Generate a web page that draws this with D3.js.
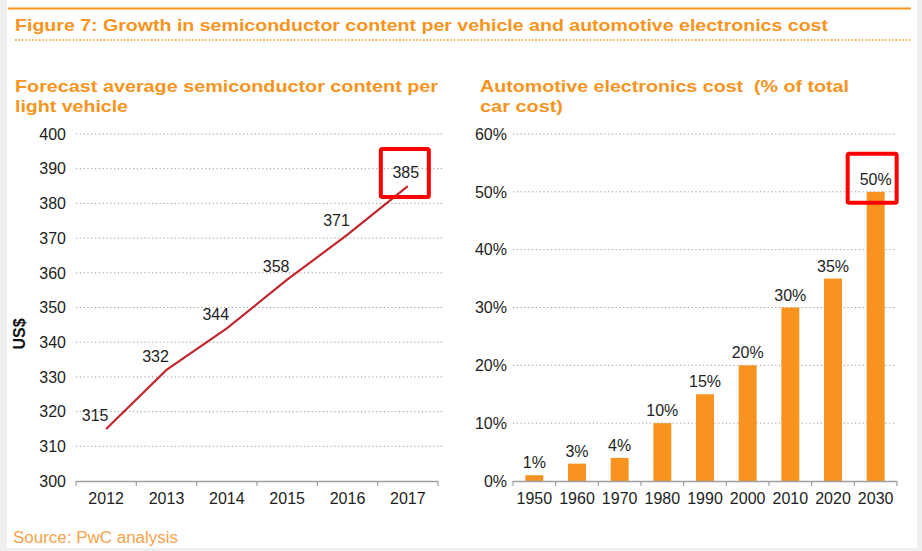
<!DOCTYPE html>
<html><head><meta charset="utf-8">
<script src="https://cdn.jsdelivr.net/npm/d3@7"></script>
<style>
html,body{margin:0;padding:0;background:#fff;}
svg{display:block;font-family:"Liberation Sans",Arial,sans-serif;}
</style></head>
<body>
<script>
// ---- data ----
const years = ["2012","2013","2014","2015","2016","2017"];
const content = [315, 332, 344, 358, 371, 385];
const contentTicks = [300,310,320,330,340,350,360,370,380,390,400];
const decades = ["1950","1960","1970","1980","1990","2000","2010","2020","2030"];
const costPct = [1, 3, 4, 10, 15, 20, 30, 35, 50];
const pctTicks = [0,10,20,30,40,50,60];
const titleText = "Figure 7: Growth in semiconductor content per vehicle and automotive electronics cost";
const leftTitle = ["Forecast average semiconductor content per", "light vehicle"];
const rightTitle = ["Automotive electronics cost  (% of total", "car cost)"];
const yLabel = "US$";
const sourceText = "Source: PwC analysis";

const W = 922, H = 551;
const ORANGE = "#f7941d", TXT = "#1e1e1e", GRID = "#9a9a9a", AX = "#a0a0a0";
const svg = d3.select("body").append("svg").attr("width", W).attr("height", H);

// frame
svg.append("rect").attr("width", W).attr("height", H).attr("fill", "#efefef");
svg.append("rect").attr("x", 7).attr("y", 0).attr("width", 910).attr("height", 548).attr("fill", "#fff");

// header
svg.append("line").attr("x1", 8).attr("x2", 911).attr("y1", 8.5).attr("y2", 8.5)
  .attr("stroke", ORANGE).attr("stroke-width", 2);
svg.append("text").attr("x", 15).attr("y", 31).attr("fill", ORANGE)
  .attr("font-size", 17).attr("font-weight", "bold")
  .attr("textLength", 813).attr("lengthAdjust", "spacingAndGlyphs").text(titleText);
svg.append("line").attr("x1", 15).attr("x2", 912).attr("y1", 40).attr("y2", 40)
  .attr("stroke", ORANGE).attr("stroke-width", 1.6).attr("stroke-dasharray", "1.6,1.8");

function subtitle(lines, x, widths) {
  lines.forEach((l, i) => {
    svg.append("text").attr("x", x).attr("y", 92 + i * 20).attr("fill", ORANGE)
      .attr("font-size", 17).attr("font-weight", "bold").style("white-space", "pre")
      .attr("textLength", widths[i]).attr("lengthAdjust", "spacingAndGlyphs").text(l);
  });
}
subtitle(leftTitle, 15, [423, 113]);
subtitle(rightTitle, 480, [369, 83]);

// ---- left: line chart ----
const xL = d3.scaleBand().domain(years).range([76, 438]).padding(0);
const yL = d3.scaleLinear().domain([300, 400]).range([481, 134]);
const gL = svg.append("g");
gL.selectAll("line.grid").data(contentTicks.slice(1)).join("line")
  .attr("x1", 76).attr("x2", 443).attr("y1", d => yL(d)).attr("y2", d => yL(d))
  .attr("stroke", GRID).attr("stroke-width", 1).attr("stroke-dasharray", "1.2,2.6");
gL.selectAll("text.yt").data(contentTicks).join("text")
  .attr("x", 66).attr("y", d => yL(d)).attr("dy", "0.36em").attr("text-anchor", "end")
  .attr("font-size", 16).attr("fill", TXT).text(d => d);
gL.append("line").attr("x1", 76).attr("x2", 438).attr("y1", 481.5).attr("y2", 481.5)
  .attr("stroke", AX).attr("stroke-width", 1.5);
const bL = years.map((d) => xL(d)).concat([xL(years[years.length - 1]) + xL.bandwidth()]);
gL.selectAll("line.tk").data(bL).join("line")
  .attr("x1", d => d).attr("x2", d => d).attr("y1", 481).attr("y2", 486)
  .attr("stroke", AX).attr("stroke-width", 1.2);
gL.selectAll("text.xt").data(years).join("text")
  .attr("x", d => xL(d) + xL.bandwidth() / 2).attr("y", 504).attr("text-anchor", "middle")
  .attr("font-size", 16).attr("fill", TXT).text(d => d);
const line = d3.line().x((d, i) => xL(years[i]) + xL.bandwidth() / 2).y(d => yL(d));
gL.append("path").attr("d", line(content)).attr("fill", "none")
  .attr("stroke", "#c1272d").attr("stroke-width", 2.2);
gL.selectAll("text.val").data(content).join("text")
  .attr("x", (d, i) => xL(years[i]) + xL.bandwidth() / 2 + (i === content.length - 1 ? -2 : -11))
  .attr("y", d => yL(d) - 14).attr("dy", "0.36em").attr("text-anchor", "middle")
  .attr("font-size", 16).attr("fill", TXT).text(d => d);
svg.append("text").attr("transform", "translate(25,334) rotate(-90)").attr("text-anchor", "middle")
  .attr("font-size", 16).attr("font-weight", "bold").attr("fill", "#111").text(yLabel);
// highlight box left
{
  const i = content.length - 1;
  const cx = xL(years[i]) + xL.bandwidth() / 2, cy = yL(content[i]);
  svg.append("rect").attr("x", cx - 27).attr("y", cy - 37).attr("width", 48).attr("height", 48)
    .attr("rx", 1.5).attr("fill", "none").attr("stroke", "#ff0000").attr("stroke-width", 4);
}

// ---- right: bar chart ----
const xR = d3.scaleBand().domain(decades).range([513, 897]).paddingInner(0.58).paddingOuter(0.29);
const yR = d3.scaleLinear().domain([0, 60]).range([481, 134]);
const gR = svg.append("g");
gR.selectAll("line.grid").data(pctTicks.slice(1)).join("line")
  .attr("x1", 513).attr("x2", 897).attr("y1", d => yR(d)).attr("y2", d => yR(d))
  .attr("stroke", GRID).attr("stroke-width", 1).attr("stroke-dasharray", "1.2,2.6");
gR.selectAll("text.yt").data(pctTicks).join("text")
  .attr("x", 507).attr("y", d => yR(d)).attr("dy", "0.36em").attr("text-anchor", "end")
  .attr("font-size", 16).attr("fill", TXT).text(d => d + "%");
gR.selectAll("rect.bar").data(costPct).join("rect")
  .attr("x", (d, i) => xR(decades[i])).attr("width", xR.bandwidth())
  .attr("y", d => yR(d)).attr("height", d => yR(0) - yR(d)).attr("fill", "#f7931e");
gR.append("line").attr("x1", 513).attr("x2", 897).attr("y1", 481.5).attr("y2", 481.5)
  .attr("stroke", AX).attr("stroke-width", 1.5);
const step = xR.step();
const bR = d3.range(decades.length + 1).map(k => 513 + k * step);
gR.selectAll("line.tk").data(bR).join("line")
  .attr("x1", d => d).attr("x2", d => d).attr("y1", 481).attr("y2", 486)
  .attr("stroke", AX).attr("stroke-width", 1.2);
gR.selectAll("text.xt").data(decades).join("text")
  .attr("x", d => xR(d) + xR.bandwidth() / 2).attr("y", 504).attr("text-anchor", "middle")
  .attr("font-size", 16).attr("fill", TXT).text(d => d);
gR.selectAll("text.val").data(costPct).join("text")
  .attr("x", (d, i) => xR(decades[i]) + xR.bandwidth() / 2).attr("y", d => yR(d) - 7)
  .attr("text-anchor", "middle").attr("font-size", 16).attr("fill", TXT).text(d => d + "%");
{
  const i = costPct.length - 1;
  const cx = xR(decades[i]) + xR.bandwidth() / 2, cy = yR(costPct[i]);
  svg.append("rect").attr("x", cx - 28).attr("y", cy - 38).attr("width", 49).attr("height", 49)
    .attr("rx", 1.5).attr("fill", "none").attr("stroke", "#ff0000").attr("stroke-width", 4);
}

// source
svg.append("text").attr("x", 13).attr("y", 543).attr("fill", "#f9a24a")
  .attr("font-size", 16).attr("textLength", 165).attr("lengthAdjust", "spacingAndGlyphs").text(sourceText);
</script>
</body></html>
